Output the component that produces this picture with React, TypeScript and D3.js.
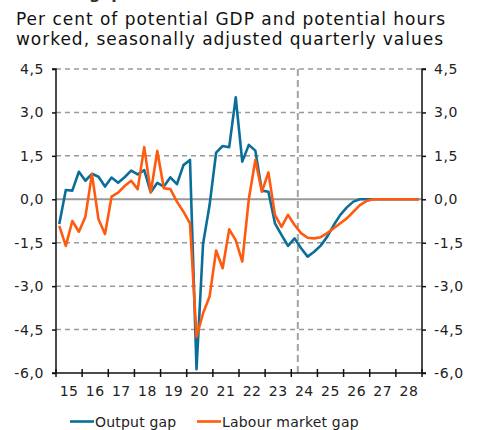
import { useEffect, useRef } from "react"
import * as d3 from "d3"

// quarterly values 2015Q1 - 2028Q4
const years = [2015, 2016, 2017, 2018, 2019, 2020, 2021, 2022, 2023, 2024, 2025, 2026, 2027, 2028]
const quarters = [1, 2, 3, 4]

const outputGap = [
  -0.85, 0.32, 0.30, 0.95,
  0.64, 0.88, 0.78, 0.44,
  0.75, 0.57, 0.76, 0.99,
  0.86, 1.01, 0.24, 0.57,
  0.44, 0.76, 0.52, 1.18,
  1.36, -5.87, -1.54, -0.2,
  1.61, 1.84, 1.8, 3.52,
  1.3, 1.88, 1.68, 0.3,
  0.26, -0.83, -1.23, -1.61,
  -1.35, -1.69, -1.98, -1.81,
  -1.6, -1.29, -0.89, -0.54,
  -0.28, -0.08, 0, 0,
  0, 0, 0, 0,
  0, 0, 0, 0,
]

const labourGap = [
  -0.92, -1.61, -0.75, -1.12,
  -0.6, 0.87, -0.69, -1.2,
  0.09, 0.23, 0.46, 0.64,
  0.35, 1.8, 0.24, 1.67,
  0.38, 0.35, -0.08, -0.43,
  -0.83, -4.75, -3.94, -3.36,
  -1.77, -2.38, -1.04, -1.41,
  -2.15, 0.0, 1.36, 0.26,
  0.93, -0.54, -0.95, -0.54,
  -0.89, -1.17, -1.33, -1.35,
  -1.31, -1.17, -1.0, -0.83,
  -0.66, -0.43, -0.2, -0.06,
  0, 0, 0, 0,
  0, 0, 0, 0,
]

const yTicks = [-6, -4.5, -3, -1.5, 0, 1.5, 3, 4.5]
const forecastStart = 2024.25

const subtitle = [
  "Per cent of potential GDP and potential hours",
  "worked, seasonally adjusted quarterly values",
]

const BLUE = "#0b6e99"
const ORANGE = "#ff5a0d"
const GRID = "#9a9a9a"
const FONT = "'DejaVu Sans', Verdana, sans-serif"

export default function App() {
  const svgRef = useRef<SVGSVGElement>(null)

  useEffect(() => {
    if (!svgRef.current) return
    const width = 480
    const height = 430

    const svg = d3.select(svgRef.current)
    svg.selectAll("*").remove()
    svg.attr("width", width).attr("height", height)

    const left = 56
    const right = 422
    const top = 69
    const bottom = 373

    const x = d3.scaleLinear().domain([2015, 2029]).range([left, right])
    const y = d3.scaleLinear().domain([-6, 4.5]).range([bottom, top])

    const dates = years.flatMap(yr => quarters.map(q => yr + (q - 0.5) / 4))
    const fmt = (v: number) => d3.format(".1f")(v).replace("\u2212", "-").replace(".", ",")

    // heading, cut off at the top edge as in the source
    svg.append("text")
      .attr("x", 0)
      .attr("y", -1)
      .attr("font-family", FONT)
      .attr("font-weight", "bold")
      .attr("font-size", 16)
      .attr("fill", "#333")
      .text("Resource gaps")

    svg.append("g")
      .selectAll("text")
      .data(subtitle)
      .join("text")
      .attr("x", 16)
      .attr("y", (_, i) => 25 + i * 20)
      .attr("font-family", FONT)
      .attr("font-size", 17)
      .attr("fill", "#111")
      .attr("textLength", (_, i) => (i === 0 ? 429 : 427))
      .attr("lengthAdjust", "spacing")
      .text(d => d)

    // grid
    svg.append("g")
      .selectAll("line")
      .data(yTicks.filter(t => t !== 0 && t !== -6))
      .join("line")
      .attr("x1", left)
      .attr("x2", right)
      .attr("y1", d => y(d))
      .attr("y2", d => y(d))
      .attr("stroke", GRID)
      .attr("stroke-width", 1.5)
      .attr("stroke-dasharray", "5,4")

    // forecast divider
    svg.append("line")
      .attr("x1", x(forecastStart))
      .attr("x2", x(forecastStart))
      .attr("y1", top)
      .attr("y2", bottom)
      .attr("stroke", "#a3a3a3")
      .attr("stroke-width", 2)
      .attr("stroke-dasharray", "7,4")

    svg.append("line")
      .attr("x1", left)
      .attr("x2", right)
      .attr("y1", y(0))
      .attr("y2", y(0))
      .attr("stroke", GRID)
      .attr("stroke-width", 2)

    // axes
    const leftAxis = d3.axisLeft(y).tickValues(yTicks).tickSize(4).tickPadding(8).tickFormat(d => fmt(+d))
    const rightAxis = d3.axisRight(y).tickValues(yTicks).tickSize(4).tickPadding(8).tickFormat(d => fmt(+d))

    const styleAxis = (g: d3.Selection<SVGGElement, unknown, null, undefined>) => {
      g.select(".domain").attr("stroke", "#111").attr("stroke-width", 1.5)
      g.selectAll(".tick line").attr("stroke", "#111").attr("stroke-width", 1.5)
      g.selectAll(".tick text")
        .attr("font-family", FONT)
        .attr("font-size", 14)
        .attr("letter-spacing", 0.6)
        .attr("fill", "#222")
    }

    svg.append("g")
      .attr("transform", `translate(${left},0)`)
      .call(leftAxis)
      .call(g => g.select(".domain").attr("d", `M-4,${top}H0V${bottom}H-4`))
      .call(styleAxis)

    svg.append("g")
      .attr("transform", `translate(${right},0)`)
      .call(rightAxis)
      .call(g => g.select(".domain").attr("d", `M4,${top}H0V${bottom}H4`))
      .call(styleAxis)

    // bottom axis: year boundaries as ticks, labels centred in each year
    const xAxis = svg.append("g")
    xAxis.append("line")
      .attr("x1", left)
      .attr("x2", right)
      .attr("y1", bottom)
      .attr("y2", bottom)
      .attr("stroke", "#111")
      .attr("stroke-width", 1.5)
    xAxis.selectAll("line.tk")
      .data([...years, 2029])
      .join("line")
      .attr("class", "tk")
      .attr("x1", d => x(d))
      .attr("x2", d => x(d))
      .attr("y1", bottom - 4)
      .attr("y2", bottom + 4)
      .attr("stroke", "#111")
      .attr("stroke-width", 1.5)
    xAxis.selectAll("text")
      .data(years)
      .join("text")
      .attr("x", d => x(d + 0.5))
      .attr("y", 396)
      .attr("text-anchor", "middle")
      .attr("font-family", FONT)
      .attr("font-size", 14)
      .attr("letter-spacing", 0.5)
      .attr("fill", "#222")
      .text(d => String(d).slice(2))

    // series
    const line = d3.line<number>()
      .x((_, i) => x(dates[i]))
      .y(d => y(d))

    svg.append("path")
      .datum(outputGap)
      .attr("d", line)
      .attr("fill", "none")
      .attr("stroke", BLUE)
      .attr("stroke-width", 2.6)
      .attr("stroke-linejoin", "round")

    svg.append("path")
      .datum(labourGap)
      .attr("d", line)
      .attr("fill", "none")
      .attr("stroke", ORANGE)
      .attr("stroke-width", 2.6)
      .attr("stroke-linejoin", "round")

    // legend
    const legend = [
      { label: "Output gap", color: BLUE, x0: 70 },
      { label: "Labour market gap", color: ORANGE, x0: 197 },
    ]
    const lg = svg.append("g")
    lg.selectAll("line")
      .data(legend)
      .join("line")
      .attr("x1", d => d.x0)
      .attr("x2", d => d.x0 + 24)
      .attr("y1", 421.5)
      .attr("y2", 421.5)
      .attr("stroke", d => d.color)
      .attr("stroke-width", 2.6)
    lg.selectAll("text")
      .data(legend)
      .join("text")
      .attr("x", d => d.x0 + 25)
      .attr("y", 427)
      .attr("font-family", FONT)
      .attr("font-size", 14)
      .attr("letter-spacing", 0.2)
      .attr("fill", "#222")
      .text(d => d.label)
  }, [])

  return (
    <svg
      ref={svgRef}
      style={{ position: "absolute", left: 0, top: 0, background: "#fff" }}
    />
  )
}
